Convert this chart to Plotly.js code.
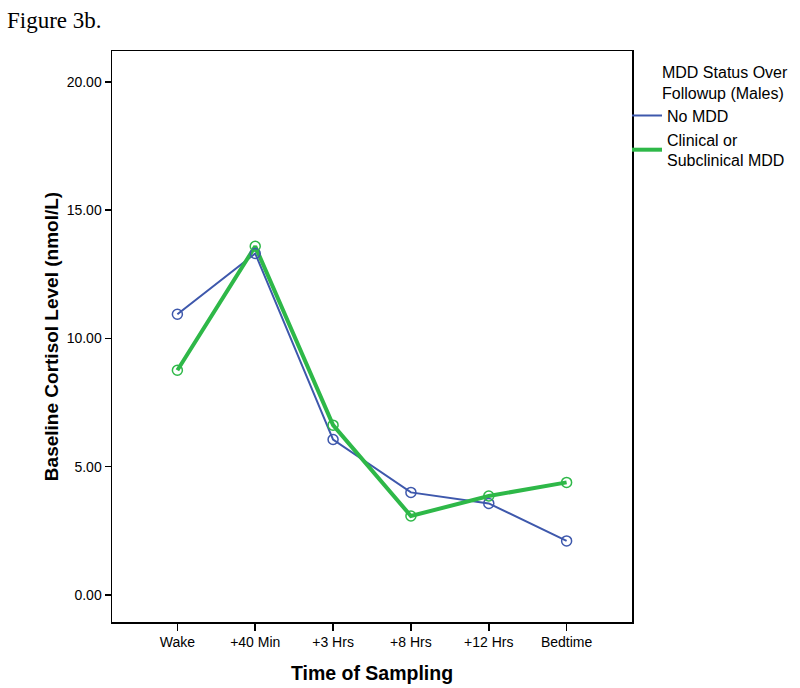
<!DOCTYPE html>
<html>
<head>
<meta charset="utf-8">
<script src="https://cdn.plot.ly/plotly-3.0.1.min.js"></script>
<style>
html,body{margin:0;padding:0;background:#fff;}
#chart{width:800px;height:688px;}
</style>
</head>
<body>
<div id="chart"></div>
<script>
var categories = ["Wake", "+40 Min", "+3 Hrs", "+8 Hrs", "+12 Hrs", "Bedtime"];
var noMDD = [10.94, 13.31, 6.06, 4.00, 3.57, 2.11];
var clinicalMDD = [8.76, 13.59, 6.62, 3.08, 3.86, 4.39];
var yTicks = [0, 5, 10, 15, 20];
var seriesNames = ["No MDD", "Clinical or<br>Subclinical MDD"];

var blue = "#3E58AC";
var green = "#2EB848";
var xIdx = categories.map(function(c, i){ return i; });

var traces = [
  {
    x: xIdx, y: noMDD, name: seriesNames[0], type: "scatter", mode: "lines",
    line: {color: blue, width: 2}, legendgroup: "a"
  },
  {
    x: xIdx, y: clinicalMDD, name: seriesNames[1], type: "scatter", mode: "lines",
    line: {color: green, width: 4}, legendgroup: "b"
  },
  {
    x: xIdx, y: noMDD, name: seriesNames[0], type: "scatter", mode: "markers", showlegend: false,
    marker: {symbol: "circle-open", size: 10, color: blue, line: {width: 1.5, color: blue}}
  },
  {
    x: xIdx, y: clinicalMDD, name: seriesNames[1], type: "scatter", mode: "markers", showlegend: false,
    marker: {symbol: "circle-open", size: 10, color: green, line: {width: 1.5, color: green}}
  }
];

var layout = {
  width: 800, height: 688,
  paper_bgcolor: "#fff", plot_bgcolor: "#fff",
  margin: {l: 111.5, r: 168.3, t: 50.7, b: 66, pad: 0, autoexpand: false},
  font: {family: "Liberation Sans, Arial, sans-serif", color: "#000", size: 14},
  xaxis: {
    range: [-0.84, 5.84],
    tickmode: "array", tickvals: xIdx, ticktext: categories,
    ticks: "outside", ticklen: 7, tickwidth: 1.5, tickcolor: "#000",
    showline: true, linecolor: "#000", linewidth: 1.5, mirror: true,
    showgrid: false, zeroline: false,
    tickfont: {size: 14},
    title: {text: "<b>Time of Sampling</b>", font: {size: 19.5}, standoff: 17}
  },
  yaxis: {
    range: [-1.05, 21.2],
    tickmode: "array", tickvals: yTicks, ticktext: yTicks.map(function(v){return v.toFixed(2);}),
    ticks: "outside", ticklen: 6, tickwidth: 1.5, tickcolor: "#000",
    showline: true, linecolor: "#000", linewidth: 1.5, mirror: true,
    showgrid: false, zeroline: false,
    tickfont: {size: 14},
    title: {text: "<b>Baseline Cortisol Level (nmol/L)</b>", font: {size: 19}, standoff: 3}
  },
  showlegend: true,
  legend: {
    x: 0.9904, xanchor: "left", y: 0.9895, yanchor: "top",
    bgcolor: "rgba(0,0,0,0)", borderwidth: 0,
    font: {size: 16},
    title: {text: "MDD Status Over<br>Followup (Males)", side: "top right", font: {size: 16}},
    tracegroupgap: 0
  },
  annotations: [
    {
      text: "Figure 3b.", xref: "paper", yref: "paper", x: -0.205, y: 1.054,
      xanchor: "left", yanchor: "middle", showarrow: false,
      font: {family: "Liberation Serif, Times New Roman, serif", size: 23, color: "#000"}
    }
  ]
};

Plotly.newPlot("chart", traces, layout, {displayModeBar: false, staticPlot: true});
</script>
</body>
</html>
